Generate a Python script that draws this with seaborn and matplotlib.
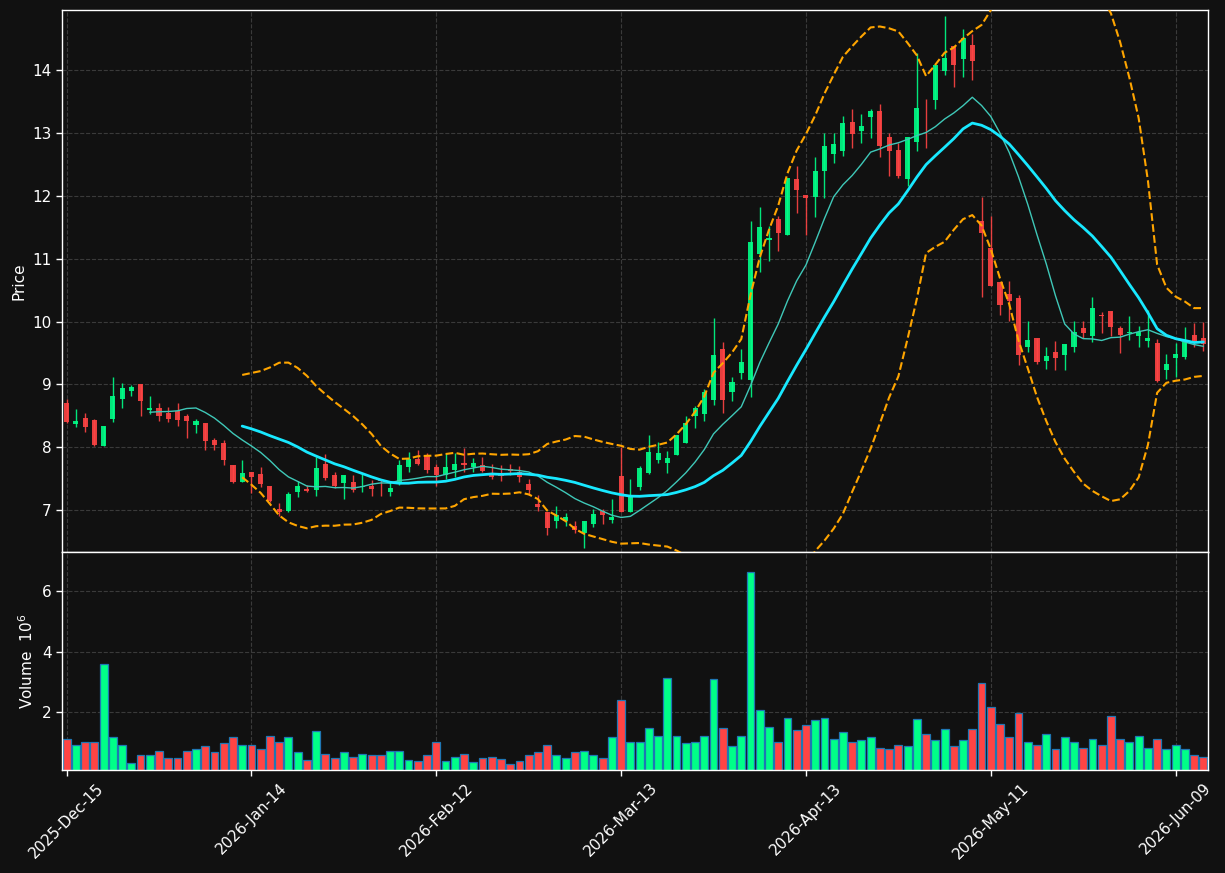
import numpy as np
import pandas as pd
import matplotlib
matplotlib.use("Agg")
import matplotlib.pyplot as plt
from matplotlib.ticker import MultipleLocator
import seaborn as sns

# daily OHLC (one entry per trading day)
opens = [8.71, 8.37, 8.47, 8.43, 8.02, 8.44, 8.76, 8.90, 9.00, 8.59,
         8.63, 8.55, 8.57, 8.49, 8.35, 8.38, 8.11, 8.06, 7.71, 7.45,
         7.60, 7.57, 7.38, 7.02, 6.99, 7.29, 7.34, 7.31, 7.73, 7.56,
         7.43, 7.44, 7.36, 7.38, 7.49, 7.29, 7.44, 7.69, 7.81, 7.87,
         7.68, 7.55, 7.64, 7.74, 7.68, 7.72, 7.57, 7.57, 7.65, 7.60,
         7.41, 7.09, 6.97, 6.82, 6.82, 6.75, 6.63, 6.78, 6.98, 6.84,
         7.54, 6.96, 7.36, 7.58, 7.80, 7.74, 7.88, 8.06, 8.50, 8.52,
         8.75, 9.57, 8.88, 9.18, 9.07, 11.07, 11.29, 11.63, 11.38, 12.27,
         12.01, 11.98, 12.40, 12.67, 12.71, 13.17, 13.04, 13.26, 13.35, 12.93,
         12.73, 12.27, 12.86, 13.34, 13.52, 13.99, 14.39, 14.18, 14.40, 11.60,
         11.17, 10.63, 10.43, 10.37, 9.60, 9.73, 9.37, 9.51, 9.47, 9.60,
         9.89, 9.77, 10.11, 10.16, 9.89, 9.81, 9.77, 9.69, 9.65, 9.23,
         9.42, 9.44, 9.78, 9.73]
highs = [8.77, 8.61, 8.55, 8.44, 8.34, 9.12, 9.02, 8.99, 9.00, 8.81,
         8.70, 8.64, 8.70, 8.53, 8.45, 8.38, 8.14, 8.11, 7.71, 7.80,
         7.60, 7.68, 7.38, 7.11, 7.28, 7.46, 7.39, 7.85, 7.89, 7.60,
         7.56, 7.56, 7.59, 7.47, 7.50, 7.44, 7.79, 7.92, 7.95, 7.91,
         7.73, 7.90, 7.91, 7.98, 7.83, 7.84, 7.73, 7.72, 7.73, 7.70,
         7.49, 7.23, 6.97, 7.06, 6.95, 6.82, 6.83, 7.02, 7.02, 7.18,
         8.00, 7.49, 7.70, 8.19, 8.08, 7.94, 8.20, 8.50, 8.66, 8.92,
         10.05, 9.68, 9.11, 9.57, 11.60, 11.83, 11.52, 11.68, 12.29, 12.47,
         12.01, 12.62, 13.00, 13.00, 13.27, 13.38, 13.30, 13.38, 13.47, 13.00,
         12.84, 12.93, 14.28, 13.55, 14.08, 14.86, 14.39, 14.65, 14.58, 11.98,
         11.68, 10.63, 10.64, 10.42, 10.01, 9.73, 9.59, 9.69, 9.64, 10.01,
         10.01, 10.39, 10.15, 10.16, 9.93, 10.08, 9.93, 10.18, 9.72, 9.48,
         9.65, 9.92, 9.97, 10.00]
lows = [8.39, 8.32, 8.24, 8.01, 8.01, 8.40, 8.62, 8.81, 8.49, 8.53,
        8.42, 8.40, 8.34, 8.14, 8.22, 7.96, 7.96, 7.72, 7.43, 7.45,
        7.27, 7.36, 7.12, 6.90, 6.96, 7.20, 7.28, 7.22, 7.48, 7.35,
        7.17, 7.29, 7.29, 7.22, 7.22, 7.22, 7.40, 7.60, 7.71, 7.59,
        7.38, 7.50, 7.52, 7.60, 7.60, 7.60, 7.50, 7.46, 7.55, 7.45,
        7.23, 6.99, 6.60, 6.71, 6.74, 6.63, 6.39, 6.73, 6.78, 6.79,
        6.96, 6.96, 7.32, 7.57, 7.74, 7.58, 7.88, 8.06, 8.30, 8.42,
        8.67, 8.55, 8.74, 9.08, 8.80, 10.79, 10.96, 11.12, 11.38, 11.72,
        11.37, 11.67, 11.96, 12.53, 12.64, 12.76, 12.84, 12.92, 12.62, 12.32,
        12.28, 12.15, 12.71, 12.76, 13.39, 13.92, 13.73, 13.90, 13.84, 10.39,
        10.57, 10.11, 10.01, 9.31, 9.51, 9.32, 9.24, 9.23, 9.22, 9.51,
        9.74, 9.67, 9.81, 9.77, 9.50, 9.70, 9.60, 9.60, 9.04, 9.08,
        9.11, 9.41, 9.60, 9.53]
closes = [8.40, 8.41, 8.32, 8.04, 8.33, 8.81, 8.94, 8.95, 8.73, 8.62,
          8.49, 8.44, 8.43, 8.41, 8.41, 8.10, 8.04, 7.79, 7.45, 7.58,
          7.53, 7.41, 7.14, 6.96, 7.26, 7.38, 7.30, 7.67, 7.51, 7.38,
          7.56, 7.32, 7.38, 7.34, 7.46, 7.35, 7.72, 7.81, 7.73, 7.64,
          7.55, 7.68, 7.73, 7.72, 7.75, 7.62, 7.53, 7.54, 7.62, 7.53,
          7.32, 7.05, 6.72, 6.92, 6.89, 6.68, 6.83, 6.94, 6.92, 6.89,
          6.96, 7.23, 7.67, 7.93, 7.90, 7.83, 8.20, 8.38, 8.63, 8.88,
          9.46, 8.75, 9.04, 9.35, 11.26, 11.50, 11.33, 11.41, 12.29, 12.10,
          11.96, 12.39, 12.80, 12.83, 13.16, 12.98, 13.11, 13.35, 12.80, 12.72,
          12.32, 12.93, 13.40, 13.33, 14.08, 14.20, 14.08, 14.51, 14.14, 11.41,
          10.57, 10.26, 10.32, 9.47, 9.70, 9.36, 9.45, 9.42, 9.64, 9.83,
          9.82, 10.21, 10.08, 9.92, 9.78, 9.84, 9.84, 9.73, 9.06, 9.32,
          9.48, 9.68, 9.68, 9.64]
# volume in millions
volumes = [1.10, 0.90, 1.03, 1.03, 3.60, 1.17, 0.90, 0.33, 0.60, 0.57,
           0.73, 0.50, 0.50, 0.73, 0.77, 0.87, 0.70, 0.97, 1.17, 0.93,
           0.90, 0.77, 1.20, 1.03, 1.17, 0.67, 0.43, 1.37, 0.63, 0.50,
           0.70, 0.53, 0.63, 0.60, 0.60, 0.73, 0.73, 0.43, 0.40, 0.57,
           1.00, 0.40, 0.53, 0.63, 0.37, 0.50, 0.53, 0.47, 0.30, 0.40,
           0.60, 0.67, 0.93, 0.57, 0.50, 0.70, 0.73, 0.57, 0.50, 1.17,
           2.40, 1.03, 1.00, 1.47, 1.23, 3.13, 1.23, 0.97, 1.00, 1.20,
           3.10, 1.47, 0.87, 1.20, 6.63, 2.07, 1.50, 1.03, 1.80, 1.40,
           1.57, 1.73, 1.80, 1.13, 1.33, 1.03, 1.07, 1.17, 0.83, 0.80,
           0.90, 0.87, 1.77, 1.27, 1.07, 1.43, 0.87, 1.07, 1.43, 2.97,
           2.17, 1.60, 1.17, 1.97, 1.03, 0.93, 1.27, 0.80, 1.17, 1.00,
           0.83, 1.13, 0.93, 1.87, 1.10, 1.03, 1.23, 0.83, 1.13, 0.80,
           0.93, 0.80, 0.60, 0.53]

start_date = "2025-12-15"
market_holidays = ["2025-12-25", "2026-01-01", "2026-01-19",
                   "2026-02-16", "2026-04-03", "2026-05-25"]

up_color = "#00ff88"
down_color = "#ff4444"
bg = "#111111"

df = pd.DataFrame({"Open": opens, "High": highs, "Low": lows,
                   "Close": closes, "Volume": volumes})
df["Date"] = pd.bdate_range(start_date, periods=len(df), freq="C",
                            holidays=market_holidays)
df["idx"] = np.arange(len(df))
df["dir"] = np.where(df["Close"] >= df["Open"], "up", "down")
df["ma10"] = df["Close"].rolling(10).mean()
df["ma20"] = df["Close"].rolling(20).mean()
std20 = df["Close"].rolling(20).std()
df["bb_up"] = df["ma20"] + 2 * std20
df["bb_lo"] = df["ma20"] - 2 * std20

sns.set_theme(style="darkgrid", rc={
    "axes.facecolor": bg, "figure.facecolor": bg,
    "axes.edgecolor": "white", "axes.linewidth": 1.0,
    "grid.color": "#3a3a3a", "grid.linestyle": "--", "grid.linewidth": 0.8,
    "text.color": "white", "axes.labelcolor": "white",
    "xtick.color": "white", "ytick.color": "white",
    "xtick.major.size": 4, "ytick.major.size": 4,
    "xtick.major.width": 1, "ytick.major.width": 1,
    "xtick.bottom": True, "ytick.left": True,
    "axes.labelsize": 11, "xtick.labelsize": 11, "ytick.labelsize": 11,
})
plt.rcParams["font.family"] = ["DejaVu Sans"]

fig = plt.figure(figsize=(12.25, 8.73), dpi=100)
ax = fig.add_axes([0.0506, 0.3677, 0.9355, 0.62085])
axv = fig.add_axes([0.0506, 0.11798, 0.9355, 0.24972], sharex=ax)

# candles
colors = np.where(df["dir"] == "up", up_color, down_color)
body_lo = np.minimum(df["Open"], df["Close"])
body_h = np.maximum(np.abs(df["Close"] - df["Open"]), 0.012)
ax.vlines(df["idx"], df["Low"], df["High"], colors=colors, lw=1.0,
          alpha=0.9, zorder=2)
ax.bar(df["idx"], body_h, bottom=body_lo, width=0.55, color=colors,
       alpha=0.9, linewidth=0, zorder=3)

# moving averages and bands
sns.lineplot(data=df, x="idx", y="ma10", color="#3fc8b8", lw=1.0,
             errorbar=None, legend=False, ax=ax, zorder=4)
sns.lineplot(data=df, x="idx", y="ma20", color="#18e8ff", lw=2.0,
             errorbar=None, legend=False, ax=ax, zorder=4)
for col in ["bb_up", "bb_lo"]:
    sns.lineplot(data=df, x="idx", y=col, color="#ffa500", lw=1.5,
                 linestyle="--", errorbar=None, legend=False, ax=ax, zorder=4)

# volume
sns.barplot(data=df, x="idx", y="Volume", hue="dir",
            palette={"up": up_color, "down": down_color}, saturation=1,
            native_scale=True, dodge=False, width=0.85, errorbar=None,
            edgecolor="#1f77b4", linewidth=0.9, legend=False, ax=axv)

n = len(df)
ax.set_xlim(-0.5, n - 0.5)
ax.set_ylim(df["Low"].min() - 0.06, df["High"].max() + 0.1)
axv.set_ylim(0.3 * df["Volume"].min(), 1.1 * df["Volume"].max())

ax.yaxis.set_major_locator(MultipleLocator(1))
axv.yaxis.set_major_locator(MultipleLocator(2))

tick_pos = list(range(0, n, 20))
axv.set_xticks(tick_pos)
axv.set_xticklabels([df["Date"][i].strftime("%Y-%b-%d") for i in tick_pos],
                    rotation=45, ha="center")
ax.tick_params(axis="x", length=0, labelbottom=False)

ax.set_xlabel("")
ax.set_ylabel("Price")
axv.set_xlabel("")
axv.set_ylabel("Volume  $10^{6}$")

for a in (ax, axv):
    a.set_axisbelow(True)
    a.grid(True)
    for s in a.spines.values():
        s.set_color("white")
        s.set_linewidth(1.0)

fig.savefig("out.png", dpi=100, facecolor=bg)
